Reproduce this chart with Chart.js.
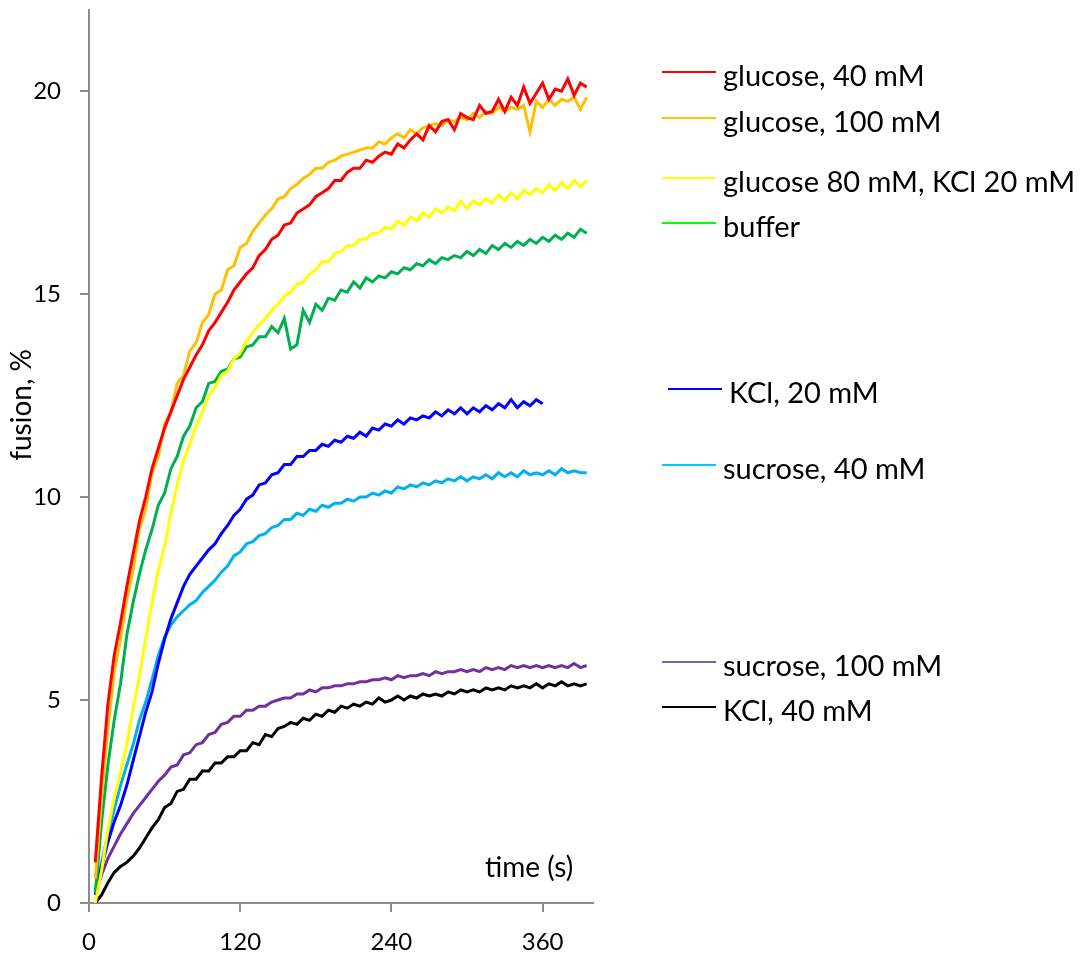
<!DOCTYPE html>
<html>
<head>
<meta charset="utf-8">
<script src="https://cdn.jsdelivr.net/npm/chart.js@4.4.0/dist/chart.umd.min.js"></script>
<style>
  html, body { margin: 0; padding: 0; background: #fff; }
</style>
</head>
<body>
<canvas id="chart" width="1091" height="956"></canvas>
<script>
// time axis (s), one reading every 5 s
const times = [
  5, 10, 15, 20, 25, 30, 35, 40, 45, 50,
  55, 60, 65, 70, 75, 80, 85, 90, 95, 100,
  105, 110, 115, 120, 125, 130, 135, 140, 145, 150,
  155, 160, 165, 170, 175, 180, 185, 190, 195, 200,
  205, 210, 215, 220, 225, 230, 235, 240, 245, 250,
  255, 260, 265, 270, 275, 280, 285, 290, 295, 300,
  305, 310, 315, 320, 325, 330, 335, 340, 345, 350,
  355, 360, 365, 370, 375, 380, 385, 390, 395
];

const xTicks = [0, 120, 240, 360];
const yTicks = [0, 5, 10, 15, 20];

const labels = [
  'glucose, 40 mM', 'glucose, 100 mM', 'glucose 80 mM, KCl 20 mM', 'buffer',
  'KCl, 20 mM', 'sucrose, 40 mM', 'sucrose, 100 mM', 'KCl, 40 mM'
];

// fusion, %
const glucose40 = [
  1.0, 3.1, 4.9, 6.1, 6.9, 7.8, 8.6, 9.4, 10.0, 10.7,
  11.2, 11.7, 12.1, 12.5, 12.9, 13.2, 13.5, 13.75, 14.1, 14.3,
  14.55, 14.8, 15.1, 15.3, 15.5, 15.65, 15.95, 16.1, 16.35, 16.45,
  16.7, 16.75, 17.0, 17.1, 17.2, 17.4, 17.5, 17.6, 17.8, 17.8,
  18.0, 18.1, 18.1, 18.3, 18.25, 18.4, 18.5, 18.45, 18.7, 18.6,
  18.8, 18.95, 18.8, 19.15, 19.0, 19.25, 19.3, 19.05, 19.45, 19.35,
  19.3, 19.65, 19.45, 19.5, 19.8, 19.5, 19.85, 19.65, 20.1, 19.7,
  19.95, 20.2, 19.8, 20.05, 20.0, 20.3, 19.9, 20.2, 20.1
];
const glucose100 = [
  0.6, 2.6, 4.3, 5.7, 6.5, 7.5, 8.2, 9.2, 9.7, 10.6,
  11.0, 11.8, 12.1, 12.8, 13.0, 13.6, 13.8, 14.3, 14.5, 15.0,
  15.1, 15.6, 15.7, 16.15, 16.25, 16.55, 16.75, 16.95, 17.1, 17.35,
  17.4, 17.6, 17.7, 17.85, 17.95, 18.1, 18.1, 18.25, 18.3, 18.4,
  18.45, 18.5, 18.55, 18.6, 18.6, 18.75, 18.7, 18.85, 18.95, 18.85,
  19.05, 18.95, 19.1, 19.15, 19.2, 19.15, 19.3, 19.25, 19.35, 19.3,
  19.45, 19.35, 19.5, 19.45, 19.6, 19.5, 19.6, 19.55, 19.65, 19.0,
  19.75, 19.6, 19.8, 19.65, 19.8, 19.75, 19.85, 19.55, 19.85
];
const glucoseKcl = [
  0.0, 0.8, 1.8, 2.6, 3.2, 3.9, 4.8, 5.6, 6.5, 7.4,
  8.2, 8.8, 9.6, 10.3, 10.9, 11.3, 11.75, 12.1, 12.5, 12.7,
  13.0, 13.1, 13.4, 13.55, 13.85, 14.05, 14.25, 14.4, 14.6, 14.75,
  14.95, 15.05, 15.25, 15.3, 15.5, 15.6, 15.8, 15.8, 16.0, 16.05,
  16.2, 16.2, 16.35, 16.35, 16.5, 16.5, 16.65, 16.6, 16.8, 16.7,
  16.9, 16.8, 17.0, 16.9, 17.1, 17.0, 17.15, 17.05, 17.3, 17.1,
  17.3, 17.2, 17.35, 17.25, 17.45, 17.3, 17.5, 17.35, 17.55, 17.45,
  17.6, 17.5, 17.7, 17.55, 17.75, 17.6, 17.8, 17.65, 17.8
];
const buffer = [
  0.25, 2.0, 3.4, 4.5, 5.4, 6.6, 7.4, 8.1, 8.7, 9.2,
  9.8, 10.1, 10.7, 11.0, 11.5, 11.75, 12.2, 12.35, 12.8, 12.85,
  13.1, 13.15, 13.4, 13.45, 13.7, 13.75, 13.95, 13.95, 14.2, 14.05,
  14.4, 13.65, 13.75, 14.6, 14.3, 14.75, 14.6, 14.9, 14.85, 15.1,
  15.05, 15.3, 15.15, 15.4, 15.3, 15.45, 15.4, 15.55, 15.5, 15.65,
  15.6, 15.75, 15.7, 15.85, 15.75, 15.9, 15.85, 15.95, 15.9, 16.05,
  15.95, 16.1, 16.0, 16.2, 16.1, 16.25, 16.15, 16.3, 16.2, 16.35,
  16.25, 16.4, 16.3, 16.45, 16.35, 16.5, 16.4, 16.6, 16.5
];
const kcl20 = [
  0.2, 0.9, 1.5, 2.0, 2.4, 2.9, 3.5, 4.1, 4.7, 5.2,
  5.9, 6.5, 7.0, 7.4, 7.8, 8.1, 8.3, 8.5, 8.7, 8.85,
  9.1, 9.3, 9.55, 9.7, 9.95, 10.05, 10.3, 10.35, 10.55, 10.6,
  10.8, 10.8, 11.0, 11.0, 11.15, 11.15, 11.3, 11.25, 11.4, 11.35,
  11.5, 11.45, 11.6, 11.5, 11.7, 11.65, 11.8, 11.75, 11.9, 11.8,
  11.95, 11.9, 12.0, 11.95, 12.1, 12.0, 12.15, 12.05, 12.2, 12.05,
  12.2, 12.1, 12.25, 12.15, 12.3, 12.2, 12.4, 12.2, 12.35, 12.25,
  12.4, 12.3
];
const sucrose40 = [
  0.3, 1.0, 1.7, 2.3, 2.9, 3.4, 3.9, 4.5, 4.95, 5.5,
  6.1, 6.55, 6.85, 7.05, 7.2, 7.35, 7.45, 7.65, 7.8, 7.95,
  8.15, 8.3, 8.55, 8.65, 8.85, 8.9, 9.05, 9.1, 9.25, 9.3,
  9.45, 9.45, 9.6, 9.55, 9.7, 9.65, 9.8, 9.75, 9.85, 9.85,
  9.95, 9.9, 10.0, 10.0, 10.1, 10.05, 10.15, 10.1, 10.25, 10.2,
  10.3, 10.25, 10.35, 10.3, 10.4, 10.35, 10.45, 10.4, 10.5, 10.4,
  10.5, 10.45, 10.55, 10.45, 10.6, 10.5, 10.6, 10.5, 10.65, 10.55,
  10.6, 10.55, 10.65, 10.55, 10.7, 10.6, 10.65, 10.6, 10.6
];
const sucrose100 = [
  0.2, 0.7, 1.1, 1.4, 1.7, 1.95, 2.2, 2.4, 2.6, 2.8,
  3.0, 3.15, 3.35, 3.4, 3.65, 3.7, 3.9, 3.95, 4.15, 4.2,
  4.4, 4.45, 4.6, 4.6, 4.75, 4.75, 4.85, 4.85, 4.95, 5.0,
  5.05, 5.05, 5.15, 5.15, 5.25, 5.2, 5.3, 5.3, 5.35, 5.35,
  5.4, 5.4, 5.45, 5.45, 5.5, 5.5, 5.55, 5.5, 5.6, 5.55,
  5.6, 5.6, 5.65, 5.6, 5.7, 5.65, 5.7, 5.7, 5.75, 5.7,
  5.75, 5.7, 5.8, 5.75, 5.8, 5.75, 5.85, 5.8, 5.85, 5.8,
  5.85, 5.8, 5.85, 5.8, 5.85, 5.8, 5.9, 5.8, 5.85
];
const kcl40 = [
  0.0, 0.2, 0.5, 0.75, 0.9, 1.0, 1.15, 1.35, 1.6, 1.85,
  2.05, 2.35, 2.45, 2.75, 2.8, 3.05, 3.05, 3.25, 3.25, 3.45,
  3.45, 3.6, 3.6, 3.75, 3.75, 3.95, 3.9, 4.15, 4.1, 4.3,
  4.35, 4.45, 4.4, 4.55, 4.5, 4.65, 4.6, 4.75, 4.7, 4.85,
  4.8, 4.9, 4.85, 4.95, 4.9, 5.05, 4.95, 5.0, 5.1, 5.0,
  5.1, 5.05, 5.15, 5.1, 5.15, 5.1, 5.2, 5.15, 5.25, 5.2,
  5.25, 5.2, 5.3, 5.25, 5.3, 5.25, 5.35, 5.3, 5.35, 5.3,
  5.4, 5.3, 5.4, 5.35, 5.45, 5.35, 5.4, 5.35, 5.4
];

const series = [glucose40, glucose100, glucoseKcl, buffer, kcl20, sucrose40, sucrose100, kcl40];
const lineColors = ['#ff0000', '#ffc000', '#ffff00', '#00b050', '#0000ff', '#00b0f0', '#7030a0', '#000000'];
const legendColors = ['#ff0000', '#ffc000', '#ffff00', '#00ff00', '#0000ff', '#00ccff', '#6b6ba8', '#000000'];

const FONT = 'Lato, "Liberation Sans", sans-serif';
const AXIS = '#8c8c8c';

// legend is placed by hand like in the original figure
const legendLayout = [
  { y: 72,  x0: 662, x1: 716, tx: 723 },
  { y: 118, x0: 662, x1: 716, tx: 723 },
  { y: 178, x0: 662, x1: 716, tx: 723 },
  { y: 223, x0: 662, x1: 716, tx: 723 },
  { y: 389, x0: 668, x1: 722, tx: 729 },
  { y: 465, x0: 662, x1: 716, tx: 723 },
  { y: 662, x0: 662, x1: 716, tx: 723 },
  { y: 707, x0: 662, x1: 716, tx: 723 }
];

const annotations = {
  id: 'annotations',
  afterDraw(chart) {
    const ctx = chart.ctx;
    ctx.save();
    ctx.fillStyle = '#000';
    ctx.textBaseline = 'alphabetic';
    ctx.textAlign = 'left';
    ctx.font = '29px ' + FONT;
    legendLayout.forEach((l, i) => {
      ctx.strokeStyle = legendColors[i];
      ctx.lineWidth = 2;
      ctx.beginPath();
      ctx.moveTo(l.x0, l.y);
      ctx.lineTo(l.x1, l.y);
      ctx.stroke();
      ctx.fillText(labels[i], l.tx, l.y + 14);
    });
    ctx.font = '28px ' + FONT;
    // x title sits inside the plot
    ctx.fillText('time (s)', 485, 877);
    // y title
    ctx.translate(31, 405);
    ctx.rotate(-Math.PI / 2);
    ctx.textAlign = 'center';
    ctx.fillText('fusion, %', 0, 0);
    ctx.restore();
  }
};

new Chart(document.getElementById('chart'), {
  type: 'line',
  data: {
    datasets: series.map((vals, i) => ({
      label: labels[i],
      data: vals.map((v, j) => ({ x: times[j], y: v })),
      borderColor: lineColors[i],
      backgroundColor: lineColors[i],
      borderWidth: 3,
      pointRadius: 0,
      tension: 0,
      fill: false
    }))
  },
  options: {
    responsive: false,
    animation: false,
    layout: { padding: { top: 10, right: 498, left: 0, bottom: 0 } },
    plugins: {
      legend: { display: false },
      tooltip: { enabled: false }
    },
    scales: {
      x: {
        type: 'linear',
        min: 0,
        max: 400,
        afterBuildTicks: s => { s.ticks = xTicks.map(v => ({ value: v })); },
        afterFit: s => { s.height = 53; s.paddingLeft = 0; s.paddingRight = 0; },
        grid: { drawOnChartArea: false, drawTicks: true, tickLength: 9, color: AXIS, lineWidth: 2 },
        border: { display: true, color: AXIS, width: 2 },
        ticks: { color: '#000', font: { family: FONT, size: 24 }, padding: 16, maxRotation: 0 }
      },
      y: {
        min: 0,
        max: 22,
        afterBuildTicks: s => { s.ticks = yTicks.map(v => ({ value: v })); },
        afterFit: s => { s.width = 89; s.paddingTop = 0; s.paddingBottom = 0; },
        grid: { drawOnChartArea: false, drawTicks: true, tickLength: 9, color: AXIS, lineWidth: 2 },
        border: { display: true, color: AXIS, width: 2 },
        ticks: { color: '#000', font: { family: FONT, size: 24 }, padding: 19 }
      }
    }
  },
  plugins: [annotations]
});
</script>
</body>
</html>
